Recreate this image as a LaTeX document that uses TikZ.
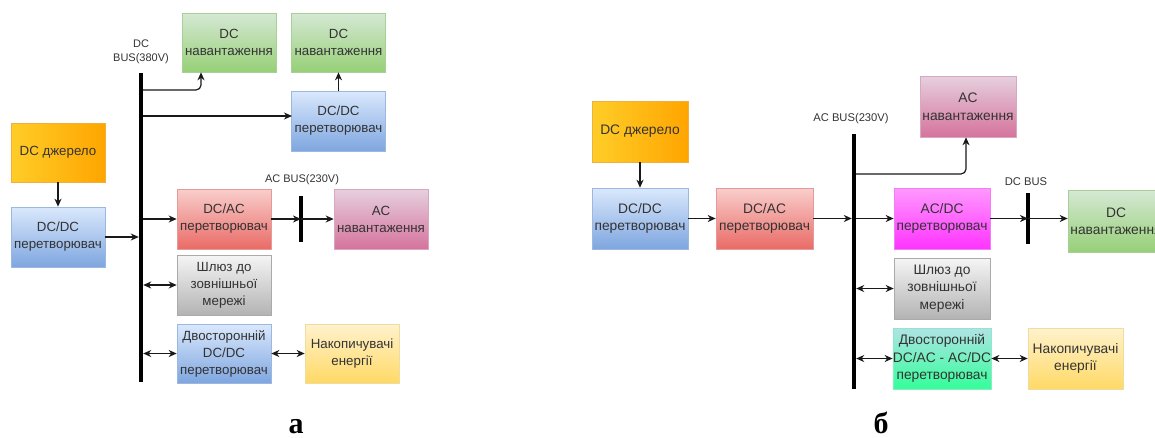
\documentclass[tikz,border=0pt]{standalone}
\usepackage{fontspec}
\setmainfont{Liberation Sans}
\newfontfamily\capfont{Liberation Serif}
\usetikzlibrary{arrows.meta}
\definecolor{txt}{HTML}{333333}
\definecolor{gTop}{HTML}{D5E8D4}\definecolor{gBot}{HTML}{97D077}\definecolor{gLn}{HTML}{A8CF98}
\definecolor{bTop}{HTML}{DAE8FC}\definecolor{bBot}{HTML}{7EA6E0}\definecolor{bLn}{HTML}{9DB8E0}
\definecolor{rTop}{HTML}{F8CECC}\definecolor{rBot}{HTML}{EA6B66}\definecolor{rLn}{HTML}{E39A98}
\definecolor{oL}{HTML}{FFCD28}\definecolor{oR}{HTML}{FFA500}\definecolor{oLn}{HTML}{F0B040}
\definecolor{pTop}{HTML}{E6D0DE}\definecolor{pBot}{HTML}{D5739D}\definecolor{pLn}{HTML}{D8A8C2}
\definecolor{sTop}{HTML}{F5F5F5}\definecolor{sBot}{HTML}{B3B3B3}\definecolor{sLn}{HTML}{AAAAAA}
\definecolor{yTop}{HTML}{FFF2CC}\definecolor{yBot}{HTML}{FFD966}\definecolor{yLn}{HTML}{F0DCA0}
\definecolor{mTop}{HTML}{FF99FF}\definecolor{mBot}{HTML}{FF33FF}\definecolor{mLn}{HTML}{F080F0}
\definecolor{tTop}{HTML}{B0E3E6}\definecolor{tBot}{HTML}{33FF99}\definecolor{tLn}{HTML}{90E8C8}
\begin{document}
\begin{tikzpicture}[x=1pt,y=-1pt,
  box/.style={draw, inner sep=0pt, align=center, text=txt, line width=0.6pt,
    font=\fontsize{13.3}{17}\selectfont},
  boxL/.style={box, minimum width=94pt, minimum height=60pt},
  boxR/.style={box, minimum width=96pt, minimum height=61pt, font=\fontsize{13.8}{17.5}\selectfont},
  gfill/.style={top color=gTop, bottom color=gBot, draw=gLn},
  bfill/.style={top color=bTop, bottom color=bBot, draw=bLn},
  rfill/.style={top color=rTop, bottom color=rBot, draw=rLn},
  ofill/.style={left color=oL, right color=oR, draw=oLn},
  pfill/.style={top color=pTop, bottom color=pBot, draw=pLn},
  sfill/.style={top color=sTop, bottom color=sBot, draw=sLn},
  yfill/.style={top color=yTop, bottom color=yBot, draw=yLn},
  mfill/.style={top color=mTop, bottom color=mBot, draw=mLn},
  tfill/.style={top color=tTop, bottom color=tBot, draw=tLn},
  busbar/.style={fill=black, inner sep=0pt, minimum width=4pt},
  lbl/.style={font=\fontsize{11}{14}\selectfont, text=txt, align=center, inner sep=0pt},
  tip/.tip={Stealth[length=8pt,width=7pt,inset=2.5pt]},
  arr/.style={-tip, line width=1.2pt, draw=black!90},
  darr/.style={tip-tip, line width=1.2pt, draw=black!90},
  capt/.style={font=\capfont\bfseries\fontsize{30}{30}\selectfont, anchor=base, inner sep=0pt}
]
\useasboundingbox (0,0) rectangle (1155,437);
\clip (0,0) rectangle (1155,437);

% ---------------- (a) ----------------
\node[boxL, ofill, minimum height=59pt] (srcA) at (58,152.5) {DC джерело};
\node[boxL, bfill] (dcdcA) at (58,237) {DC/DC\\перетворювач};
\node[busbar, minimum height=309pt] (dcbusA) at (141,227.5) {};
\node[lbl] (dcbusLblA) at (141,52) {DC\\BUS(380V)};
\node[boxL, gfill, minimum height=59pt] (load1A) at (229,42.5) {DC\\навантаження};
\node[boxL, gfill, minimum height=59pt] (load2A) at (338.5,42.5) {DC\\навантаження};
\node[boxL, bfill] (dcdcTA) at (338.5,121) {DC/DC\\перетворювач};
\node[boxL, rfill] (dcacA) at (224,219) {DC/AC\\перетворювач};
\node[busbar, minimum height=46pt] (acbusA) at (301,219) {};
\node[lbl] (acbusLblA) at (302,180) {AC BUS(230V)};
\node[boxL, pfill] (acloadA) at (381,219) {AC\\навантаження};
\node[boxL, sfill] (gwA) at (224,285) {Шлюз до\\зовнішньої\\мережі};
\node[boxL, bfill, minimum height=59pt] (bidirA) at (224,353.5) {Двосторонній\\DC/DC\\перетворювач};
\node[boxL, yfill, minimum height=59pt] (storA) at (352,353.5) {Накопичувачі\\енергії};
\node[capt] (capA) at (296,433) {а};

\coordinate (tapA1) at (201,90);
\coordinate (tapA2) at (292,116);
\draw[arr] (srcA) -- (dcdcA);
\draw[arr] (dcdcA.east) -- (dcdcA.east -| dcbusA.west);
\draw[arr, rounded corners=5pt] (dcbusA.east |- tapA1) -- (tapA1) -- (tapA1 |- load1A.south);
\draw[arr] (dcbusA.east |- tapA2) -- (tapA2);
\draw[arr] (dcdcTA) -- (load2A);
\draw[arr] (dcbusA.east |- dcacA.west) -- (dcacA.west);
\draw[arr] (dcacA.east) -- (acbusA.center);
\draw[arr] (acbusA.center) -- (acloadA.west);
\draw[darr] (dcbusA.east |- gwA.west) -- (gwA.west);
\draw[darr, line width=1.8pt] (dcbusA.east |- bidirA.west) -- (bidirA.west);
\draw[darr, line width=1.8pt] (bidirA.east) -- (storA.west);

% ---------------- (б) ----------------
\node[boxR, ofill] (srcB) at (640,131.5) {DC джерело};
\node[boxR, bfill] (dcdcB) at (640,218.5) {DC/DC\\перетворювач};
\node[boxR, rfill, minimum width=97pt] (dcacB) at (764.5,218.5) {DC/AC\\перетворювач};
\node[busbar, minimum height=255pt] (acbusB) at (854,261.5) {};
\node[lbl, font=\fontsize{11.2}{14}\selectfont] (acbusLblB) at (851,119) {AC BUS(230V)};
\node[boxR, pfill] (acloadB) at (968,106.5) {AC\\навантаження};
\node[boxR, mfill] (acdcB) at (942,218.5) {AC/DC\\перетворювач};
\node[lbl, font=\fontsize{11.2}{14}\selectfont] (dcbusLblB) at (1026,182) {DC BUS};
\node[busbar, minimum height=51pt] (dcbusB) at (1028,218.5) {};
\node[boxR, gfill, minimum height=62pt] (dcloadB) at (1116,221) {DC\\навантаження};
\node[boxR, sfill] (gwB) at (942,288.5) {Шлюз до\\зовнішньої\\мережі};
\node[boxR, tfill] (bidirB) at (942,358.5) {Двосторонній\\DC/AC - AC/DC\\перетворювач};
\node[boxR, yfill, minimum width=95pt] (storB) at (1075.5,358.5) {Накопичувачі\\енергії};
\node[capt] (capB) at (881,433) {б};

\coordinate (tapB1) at (966,174);
\draw[arr] (srcB) -- (dcdcB);
\draw[arr, line width=1.6pt] (dcdcB) -- (dcacB);
\draw[arr, line width=1.6pt] (dcacB.east) -- (dcacB.east -| acbusB.west);
\draw[arr, rounded corners=5pt] (acbusB.east |- tapB1) -- (tapB1) -- (tapB1 |- acloadB.south);
\draw[arr, line width=1.4pt] (acbusB.east |- acdcB.west) -- (acdcB.west);
\draw[arr, line width=1.4pt] (acdcB.east) -- (dcbusB.center);
\draw[arr, line width=1.4pt] (dcbusB.center) -- (dcbusB.center -| dcloadB.west);
\draw[darr] (acbusB.east |- gwB.west) -- (gwB.west);
\draw[darr] (acbusB.east |- bidirB.west) -- (bidirB.west);
\draw[darr] (bidirB.east) -- (storB.west);
\end{tikzpicture}
\end{document}
